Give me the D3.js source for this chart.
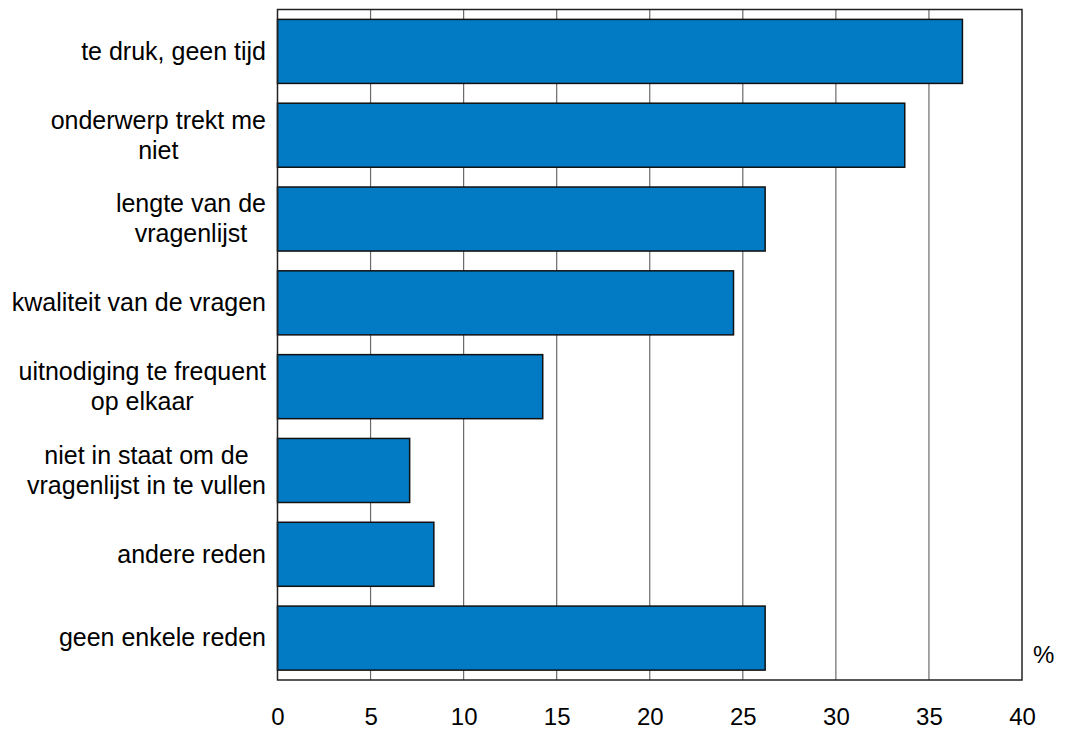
<!DOCTYPE html>
<html><head><meta charset="utf-8">
<script src="https://cdn.jsdelivr.net/npm/d3@7/dist/d3.min.js"></script>
<style>body{margin:0;background:#fff}text{font-family:"Liberation Sans",Arial,sans-serif;fill:#000}</style>
</head><body><svg id="c" width="1072" height="731"></svg>
<script>
const categories = [
  ["te druk, geen tijd"],
  ["onderwerp trekt me", "niet"],
  ["lengte van de", "vragenlijst"],
  ["kwaliteit van de vragen"],
  ["uitnodiging te frequent", "op elkaar"],
  ["niet in staat om de", "vragenlijst in te vullen"],
  ["andere reden"],
  ["geen enkele reden"]
];
const values = [36.8, 33.7, 26.2, 24.5, 14.25, 7.1, 8.4, 26.2];
const ticks = [0, 5, 10, 15, 20, 25, 30, 35, 40];
const unitLabel = "%";

const svg = d3.select("#c");
const L = 277.5, R = 1022, T = 9.5, B = 680;
const x = d3.scaleLinear().domain([0, 40]).range([L, R]);
const y = d3.scaleBand().domain(d3.range(categories.length)).range([T, B]).paddingInner(0.236).paddingOuter(0.118);

// gridlines
svg.append("g").selectAll("line").data(ticks.slice(1, -1)).join("line")
  .attr("x1", d => x(d)).attr("x2", d => x(d)).attr("y1", T).attr("y2", B)
  .attr("stroke", "#6a6a6a").attr("stroke-width", 1.2);

// bars
svg.append("g").selectAll("rect").data(values).join("rect")
  .attr("x", x(0)).attr("y", (d, i) => y(i))
  .attr("width", d => x(d) - x(0)).attr("height", y.bandwidth())
  .attr("fill", "#027bc4").attr("stroke", "#111").attr("stroke-width", 1.5);

// frame
svg.append("rect").attr("x", L).attr("y", T).attr("width", R - L).attr("height", B - T)
  .attr("fill", "none").attr("stroke", "#222").attr("stroke-width", 1.5);

// x axis
const xAxis = svg.append("g").attr("transform", `translate(0,${B})`)
  .call(d3.axisBottom(x).tickValues(ticks).tickSize(0).tickPadding(0));
xAxis.select(".domain").remove();
xAxis.selectAll("text").attr("dy", null).attr("y", 45).style("font-size", "24px")
  .style("font-family", '"Liberation Sans",Arial,sans-serif').attr("fill", "#000");

// category labels
const fs = 25, lh = 30, rightEdge = 266;
categories.forEach((lines, i) => {
  const cy = y(i) + y.bandwidth() / 2;
  const g = svg.append("g");
  const t = g.append("text").style("font-size", fs + "px").attr("text-anchor", "middle");
  const n = lines.length;
  lines.forEach((ln, j) => {
    t.append("tspan").attr("x", 0).attr("y", cy + (j - (n - 1) / 2) * lh + 8.4).text(ln);
  });
  const bb = t.node().getBBox();
  t.attr("transform", `translate(${rightEdge - bb.width / 2},0)`);
});

svg.append("text").attr("x", 1033).attr("y", 663).style("font-size", "24px").text(unitLabel);
</script></body></html>
